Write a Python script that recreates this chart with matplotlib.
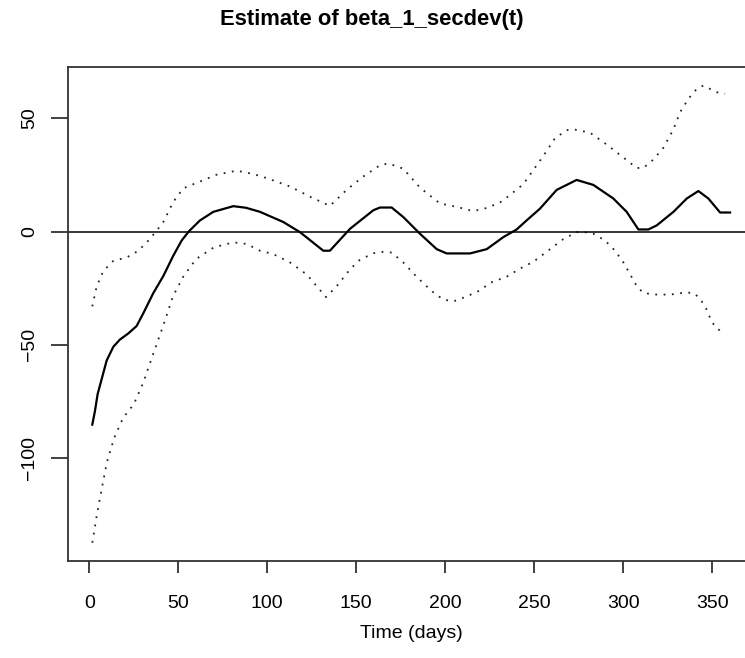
import numpy as np
import matplotlib
matplotlib.use("Agg")
from matplotlib import pyplot as plt

plt.rcParams['font.family'] = ['Liberation Sans', 'DejaVu Sans']

# estimate of beta_1_secdev(t)
est_days = [1.7, 3.2, 4.7, 7.0, 9.8, 13.5, 17.2, 21.9, 26.6, 30.4, 36.0, 41.6,
            47.2, 51.9, 56.0, 62.2, 69.7, 80.9, 88.0, 95.9, 109.0, 118.4, 131.5,
            135.2, 146.5, 159.6, 163.3, 169.9, 176.4, 185.8, 195.2, 200.8, 213.9,
            223.3, 232.6, 240.1, 245.7, 253.2, 262.6, 273.8, 283.2, 294.4, 301.9,
            308.5, 314.1, 318.8, 328.2, 335.7, 342.2, 347.8, 354.4, 360.0]
est_vals = [-85.4, -79.4, -71.9, -65.2, -57.0, -51.0, -47.8, -45.1, -41.8, -36.1,
            -27.2, -19.7, -10.7, -4.0, 0.1, 4.9, 8.7, 11.2, 10.5, 8.7, 4.2, -0.3,
            -8.5, -8.5, 1.2, 9.4, 10.6, 10.6, 6.4, -1.0, -7.8, -9.7, -9.7, -7.8,
            -2.5, 0.9, 4.9, 10.1, 18.4, 22.8, 20.6, 14.6, 8.7, 0.9, 0.9, 2.7, 8.7,
            14.6, 17.9, 14.6, 8.4, 8.4]

# upper band
up_days = [1.7, 4.2, 7.9, 13.5, 21.0, 27.6, 33.2, 37.9, 41.6, 47.2, 52.8, 62.2,
           71.5, 82.8, 92.2, 99.7, 112.8, 124.0, 135.2, 144.6, 153.9, 163.3,
           168.0, 176.4, 185.8, 197.0, 206.4, 215.7, 223.3, 230.7, 236.3, 243.8,
           250.3, 255.0, 261.6, 268.2, 271.9, 281.3, 290.6, 300.9, 307.5, 311.3,
           316.9, 322.5, 328.2, 331.9, 336.6, 341.3, 345.0, 352.5, 357.2]
up_vals = [-33.1, -24.2, -17.5, -13.0, -11.5, -8.5, -4.0, 0.4, 4.2, 13.1, 19.1,
           22.1, 25.1, 26.9, 25.4, 23.6, 19.9, 15.4, 11.3, 18.4, 24.3, 29.3, 30.1,
           27.8, 19.4, 12.4, 10.9, 9.0, 10.4, 12.8, 16.1, 20.9, 28.1, 33.3, 41.2,
           44.8, 45.2, 43.7, 38.5, 32.2, 28.1, 28.1, 31.8, 37.0, 45.2, 52.7, 58.7,
           63.1, 64.5, 61.6, 60.9]

# lower band
lo_days = [1.7, 4.2, 7.0, 10.0, 14.0, 19.0, 25.0, 30.0, 36.0, 42.0, 47.0, 53.0,
           60.0, 70.0, 81.0, 88.5, 95.9, 103.4, 112.8, 122.2, 127.8, 133.0, 139.0,
           146.5, 152.1, 159.6, 165.2, 169.9, 176.4, 183.9, 192.4, 198.9, 204.6,
           212.1, 219.6, 225.1, 234.5, 242.0, 249.5, 258.9, 266.4, 273.9, 278.5,
           283.2, 289.8, 295.4, 300.1, 303.9, 307.6, 311.3, 318.8, 326.3, 335.7,
           340.3, 344.1, 346.9, 349.7, 352.5, 356.3]
lo_vals = [-137.6, -125.7, -113.7, -101.8, -91.3, -82.4, -76.4, -67.5, -54.0,
           -40.6, -28.7, -19.7, -12.2, -7.0, -4.8, -5.5, -8.5, -10.0, -13.7, -19.0,
           -24.2, -29.0, -24.2, -16.7, -12.5, -9.6, -9.0, -9.3, -13.7, -20.0,
           -26.4, -30.1, -30.9, -28.7, -26.0, -22.7, -20.0, -16.4, -13.4, -7.8,
           -3.3, -0.3, -0.3, -1.0, -4.0, -8.5, -13.7, -19.0, -24.2, -27.2, -27.9,
           -27.9, -26.9, -27.5, -30.9, -34.6, -39.9, -42.8, -44.8]

x_ticks = [0, 50, 100, 150, 200, 250, 300, 350]
y_ticks = [-100, -50, 0, 50]

fig = plt.figure(figsize=(7.45, 6.58), dpi=100)
ax = fig.add_axes([0.0909, 0.1474, 0.9225, 0.7503])

ax.plot(est_days, est_vals, color='black', lw=1.6)
ax.plot(up_days, up_vals, color='#222222', lw=1.3, linestyle=(0, (1, 3.6)))
ax.plot(lo_days, lo_vals, color='#222222', lw=1.3, linestyle=(0, (1, 3.6)))
ax.axhline(0, color='black', lw=1.1)

ax.set_xlim(-12.1, 374)
ax.set_ylim(-145.7, 72.6)
ax.set_xticks(x_ticks)
ax.set_yticks(y_ticks)
ax.set_yticklabels([str(v).replace('-', '\u2212') for v in y_ticks],
                   rotation=90, va='center')
ax.tick_params(axis='x', length=8.6, width=1.3, color='#333333',
               labelsize=14, pad=16)
ax.tick_params(axis='y', length=12.2, width=1.3, color='#333333',
               labelsize=14, pad=9)
for s in ax.spines.values():
    s.set_linewidth(1.3)
    s.set_color('#333333')

ax.set_xlabel('Time (days)', fontsize=14, labelpad=9)
fig.text(372 / 745, 1 - 20 / 658, 'Estimate of beta_1_secdev(t)',
         ha='center', va='center', fontsize=15.8, fontweight='bold')

fig.savefig('out.png', dpi=100)
